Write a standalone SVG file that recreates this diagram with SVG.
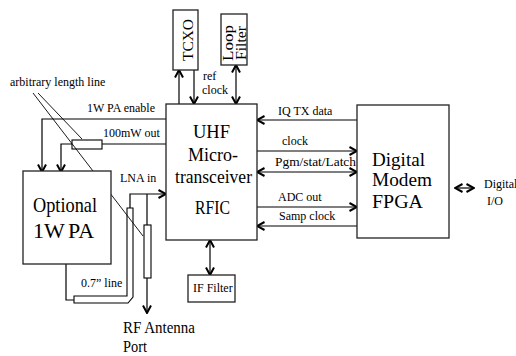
<svg xmlns="http://www.w3.org/2000/svg" width="516" height="356" viewBox="0 0 516 356">
<style>
text{fill:#000}
.box{fill:#fff;stroke:#222;stroke-width:1.3}
.ln{fill:none;stroke:#000;stroke-width:1.2}
.s{font-size:12px}
.big{font-size:19px}
.ar{marker-end:url(#ah)}
.da{marker-start:url(#ah);marker-end:url(#ah)}
</style>
<defs>
<marker id="ah" viewBox="0 0 10 10" refX="9" refY="5" markerWidth="10" markerHeight="10" markerUnits="userSpaceOnUse" orient="auto-start-reverse">
<path d="M1.5,1 L9,5 L1.5,9" fill="none" stroke="#000" stroke-width="2"/>
</marker>
</defs>
<rect width="516" height="356" fill="#fff"/>

<g id="connectors">
<line class="ln ar" x1="179" y1="104" x2="179" y2="70"/>
<line class="ln ar" x1="194" y1="70" x2="194" y2="104"/>
<line class="ln da" x1="236" y1="65" x2="236" y2="104"/>
<line class="ln da" x1="210" y1="240" x2="210" y2="275"/>
<line class="ln ar" x1="357" y1="120" x2="257" y2="120"/>
<line class="ln ar" x1="257" y1="151" x2="357" y2="151"/>
<line class="ln da" x1="257" y1="172" x2="357" y2="172"/>
<line class="ln ar" x1="257" y1="207" x2="357" y2="207"/>
<line class="ln ar" x1="357" y1="226" x2="257" y2="226"/>
<line class="ln da" x1="455" y1="188" x2="474" y2="188"/>
<polyline class="ln ar" points="166,119 42,119 42,172"/>
<line class="ln" x1="166" y1="144" x2="102" y2="144"/>
<polyline class="ln ar" points="72,144 61,144 61,172"/>
<rect x="72" y="140" width="30" height="9" fill="#fff" stroke="#000" stroke-width="1.1"/>
<polyline class="ln" points="66,264 66,300 74,300"/>
<polygon points="127,208 133,208 133,297 128,303 74,303 74,296 127,296" fill="#fff" stroke="#000" stroke-width="1.1"/>
<polyline class="ln ar" points="130,208 130,194 166,194"/>
<line class="ln" x1="147" y1="194" x2="147" y2="225"/>
<rect x="144" y="225" width="7" height="53" fill="#fff" stroke="#000" stroke-width="1.1"/>
<line class="ln ar" x1="147" y1="278" x2="147" y2="313"/>
<line stroke="#000" stroke-width="0.9" x1="38" y1="93" x2="82" y2="139"/>
<line stroke="#000" stroke-width="0.9" x1="33" y1="93" x2="143" y2="236"/>
</g>

<g font-family="'Liberation Serif', 'DejaVu Serif', serif">
<g id="tcxo">
<rect class="box" x="173" y="10" width="25" height="60"/>
<text transform="translate(193,40) rotate(-90)" text-anchor="middle" font-size="14" textLength="42" lengthAdjust="spacingAndGlyphs">TCXO</text>
</g>
<g id="loopfilter">
<rect class="box" x="221" y="14" width="26" height="51"/>
<text transform="translate(233,43) rotate(-90)" text-anchor="middle" font-size="14" textLength="36" lengthAdjust="spacingAndGlyphs">Loop</text>
<text transform="translate(246,43) rotate(-90)" text-anchor="middle" font-size="14" textLength="34" lengthAdjust="spacingAndGlyphs">Filter</text>
</g>
<g id="micro">
<rect class="box" x="166" y="104" width="91" height="136"/>
<text class="big" x="193" y="138" textLength="37" lengthAdjust="spacingAndGlyphs">UHF</text>
<text class="big" x="188" y="161" textLength="50" lengthAdjust="spacingAndGlyphs">Micro-</text>
<text class="big" x="175" y="183" textLength="77" lengthAdjust="spacingAndGlyphs">transceiver</text>
<text class="big" x="195" y="214" textLength="35" lengthAdjust="spacingAndGlyphs">RFIC</text>
</g>
<g id="fpga">
<rect class="box" x="357" y="105" width="92" height="133"/>
<text class="big" x="372" y="166" textLength="53" lengthAdjust="spacingAndGlyphs">Digital</text>
<text class="big" x="372" y="186" textLength="60" lengthAdjust="spacingAndGlyphs">Modem</text>
<text class="big" x="372" y="208" textLength="51" lengthAdjust="spacingAndGlyphs">FPGA</text>
</g>
<g id="iffilter">
<rect class="box" x="188" y="275" width="47" height="27"/>
<text class="s" x="193" y="292">IF Filter</text>
</g>
<g id="pa">
<rect class="box" x="23" y="171" width="88" height="93"/>
<text font-size="22" x="33" y="212" textLength="64" lengthAdjust="spacingAndGlyphs">Optional</text>
<text font-size="22" x="33" y="238">1W<tspan x="68">PA</tspan></text>
</g>

<g id="labels">
<text class="s" x="10" y="86">arbitrary length line</text>
<text class="s" x="87" y="112">1W PA enable</text>
<text class="s" x="103" y="137">100mW out</text>
<text class="s" x="120" y="182">LNA in</text>
<text class="s" x="81" y="287">0.7” line</text>
<text font-size="17" x="123" y="333" textLength="72" lengthAdjust="spacingAndGlyphs">RF Antenna</text>
<text font-size="17" x="123" y="352" textLength="24" lengthAdjust="spacingAndGlyphs">Port</text>
<text class="s" x="203" y="80">ref</text>
<text class="s" x="202" y="94">clock</text>
<text class="s" x="278" y="115">IQ TX data</text>
<text class="s" x="282" y="145">clock</text>
<text class="s" x="275" y="166" textLength="81" lengthAdjust="spacingAndGlyphs">Pgm/stat/Latch</text>
<text class="s" x="278" y="201">ADC out</text>
<text class="s" x="279" y="220">Samp clock</text>
<text class="s" x="484" y="188">Digital</text>
<text class="s" x="487" y="205">I/O</text>
</g>
</g>
</svg>
